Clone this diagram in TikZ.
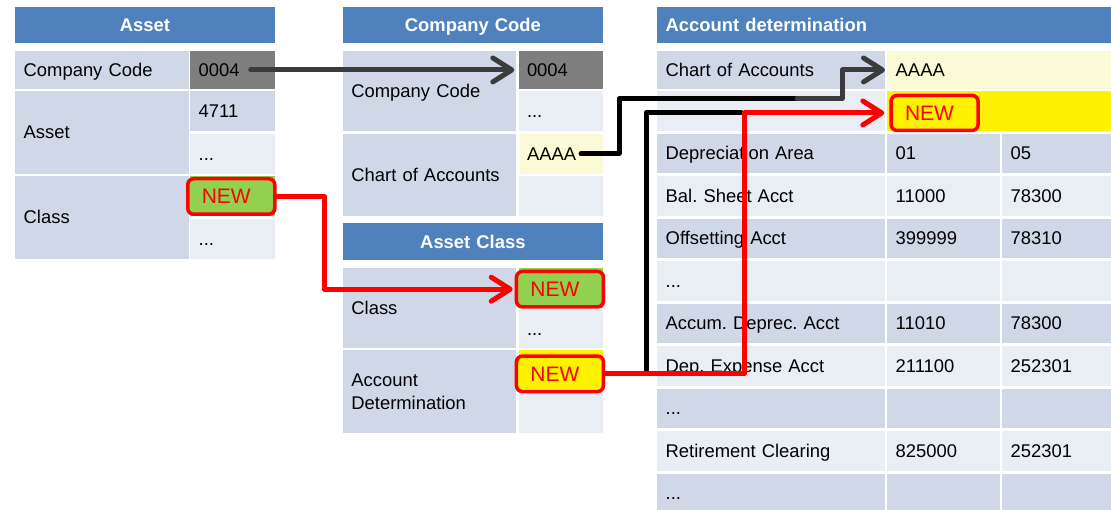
\documentclass[tikz,border=0pt]{standalone}
\usepackage{fontspec}
\setmainfont{Liberation Sans}
\usetikzlibrary{arrows.meta}
\definecolor{headblue}{HTML}{4F81BD}
\definecolor{rowdark}{HTML}{D0D8E8}
\definecolor{rowlight}{HTML}{E9EDF4}
\definecolor{keygrey}{HTML}{7F7F7F}
\definecolor{paleyellow}{HTML}{FAFAD6}
\definecolor{newgreen}{HTML}{92D050}
\definecolor{linegrey}{HTML}{3C3C3C}
\newcommand{\tabfont}{\fontsize{18.4}{23}\selectfont}
\newcommand{\markfont}{\fontsize{21}{25}\selectfont}
\newcommand{\etc}{...}
\frenchspacing
\tikzset{
        cell/.style={rectangle, anchor=north west, inner xsep=8.5pt, inner ysep=0pt, align=left, text height=13pt, text depth=0pt, font=\tabfont},
        tall/.style={minimum height=#1pt},
        % Darker rows
        cell_dark/.style={cell, fill=rowdark},
        % Lighter rows
        cell_light/.style={cell, fill=rowlight},
        % Table headings
        cell_head/.style={cell, fill=headblue, text=white, font=\tabfont\bfseries, align=center, minimum height=36.5pt},
        % Column widths
        col_label/.style={text width=156.3pt},
        col_value/.style={text width=67.3pt},
        % New entries
        node_new/.style={rectangle, anchor=north west, rounded corners=6pt, draw=red, line width=3.5pt, text=red, inner xsep=14pt, inner ysep=0pt, text width=59pt, minimum height=35.5pt, text height=15pt, text depth=0pt, font=\markfont, align=left},
        % Connectors
        link/.style={line width=5pt, line join=round, line cap=round},
        link_arrow/.style={link, -{Straight Barb[length=19pt, width=24pt, round]}}
}
\begin{document}
\begin{tikzpicture}[x=1pt, y=-1pt]
    \useasboundingbox (0,0) rectangle (1111,510);
    % Asset
    \node[cell_head, text width=242.3pt] (a-head) at (15,6.5) {Asset};
    \node[cell_dark, col_label, tall=37.5] (a-cc-l) at (15,51) {Company Code};
    \node[cell, fill=keygrey, col_value, tall=37.5] (a-cc-v) at (190,51) {0004};
    \node[cell_dark, col_label, tall=82.5] (a-no-l) at (15,91) {Asset};
    \node[cell_dark, col_value, tall=40] (a-no-v1) at (190,91) {4711};
    \node[cell_light, col_value, tall=40] (a-no-v2) at (190,133.5) {\etc};
    \node[cell_dark, col_label, tall=82.5] (a-cl-l) at (15,176) {Class};
    \node[cell, fill=newgreen, col_value, tall=40] (a-cl-v1) at (190,176) {};
    \node[cell_light, col_value, tall=40] (a-cl-v2) at (190,218.5) {\etc};
    \node[node_new, fill=newgreen] (a-new) at (186,177) {NEW};
    % Company Code
    \node[cell_head, text width=243pt] (cc-head) at (342.7,6.5) {Company Code};
    \node[cell_dark, col_label, tall=80] (cc-cc-l) at (342.7,51) {Company Code};
    \node[cell, fill=keygrey, col_value, tall=37.5] (cc-cc-v1) at (518.3,51) {0004};
    \node[cell_light, col_value, tall=40] (cc-cc-v2) at (518.3,91) {\etc};
    \node[cell_dark, col_label, tall=82.5] (cc-coa-l) at (342.7,133.5) {Chart of Accounts};
    \node[cell, fill=paleyellow, col_value, tall=40] (cc-coa-v1) at (518.3,133.5) {AAAA};
    \node[cell_light, col_value, tall=40] (cc-coa-v2) at (518.3,176) {};
    % Asset Class
    \node[cell_head, text width=243pt] (ac-head) at (342.7,223.3) {Asset Class};
    \node[cell_dark, col_label, tall=79.5] (ac-cl-l) at (342.7,268.3) {Class};
    \node[cell, fill=newgreen, col_value, tall=39.5] (ac-cl-v1) at (518.3,268.3) {};
    \node[cell_light, col_value, tall=37.5] (ac-cl-v2) at (518.3,310.3) {\etc};
    \node[cell_dark, col_label, tall=82.5, text depth=23pt] (ac-ad-l) at (342.7,350.3) {Account\\Determination};
    \node[cell, fill=yellow, col_value, tall=40] (ac-ad-v1) at (518.3,350.3) {};
    \node[cell_light, col_value, tall=40] (ac-ad-v2) at (518.3,392.8) {};
    \node[node_new, fill=newgreen] (ac-new1) at (514.7,269.7) {NEW};
    \node[node_new, fill=yellow] (ac-new2) at (514.7,354.3) {NEW};
    % Account determination
    \node[cell_head, text width=437pt, align=left] (ad-head) at (657,6.5) {Account determination};
    \node[cell_dark, text width=210.3pt, tall=37.5] (ad-coa-l) at (657,51) {Chart of Accounts};
    \node[cell, fill=paleyellow, text width=207pt, tall=37.5] (ad-coa-v) at (887,51) {AAAA};
    \node[cell_light, text width=210.3pt, tall=40] (ad-new-l) at (657,91) {};
    \node[cell, fill=yellow, text width=207pt, tall=40] (ad-new-v) at (887,91) {};
    \node[node_new, fill=yellow, minimum height=35pt] (ad-new) at (889.3,93.7) {NEW};
    \foreach \lab/\va/\vb [count=\i] in {Depreciation Area/01/05, Bal. Sheet Acct/11000/78300,
        Offsetting Acct/399999/78310, \etc/{}/{}, Accum. Deprec. Acct/11010/78300,
        Dep. Expense Acct/211100/252301, \etc/{}/{}, Retirement Clearing/825000/252301, \etc/{}/{}}
    {
        \ifodd\i \def\rowshade{cell_dark}\else\def\rowshade{cell_light}\fi
        \node[\rowshade, text width=210.3pt, tall=39.5] (ad-\i-l) at (657,91+42.5*\i) {\lab};
        \node[\rowshade, text width=95.3pt, tall=39.5] (ad-\i-a) at (887,91+42.5*\i) {\va};
        \node[\rowshade, text width=92pt, tall=39.5] (ad-\i-b) at (1002,91+42.5*\i) {\vb};
    }
    % Connectors
    \coordinate (coa-join) at (797,98.5);
    \coordinate (old-end) at (741,112.5);
    \draw[link_arrow, linegrey] ([xshift=-24pt]a-cc-v.east) -- ([xshift=-4pt]cc-cc-v1.west);
    \draw[link_arrow, red] (a-new.east) -- ++(48,0) |- ([xshift=-2pt]ac-new1.west);
    \draw[link] ([xshift=-22pt]cc-coa-v1.east) -- ++(38,0) |- (coa-join);
    \draw[link_arrow, linegrey] (coa-join) -- ++(45.5,0) |- ([xshift=-2pt]ad-coa-v.west);
    \draw[link] (ac-new2.east) -- ++(41,0) |- (old-end);
    \draw[link_arrow, red] (ac-new2.east) -- ++(139.5,0) |- ([xshift=-5pt]ad-new.west);
\end{tikzpicture}
\end{document}
